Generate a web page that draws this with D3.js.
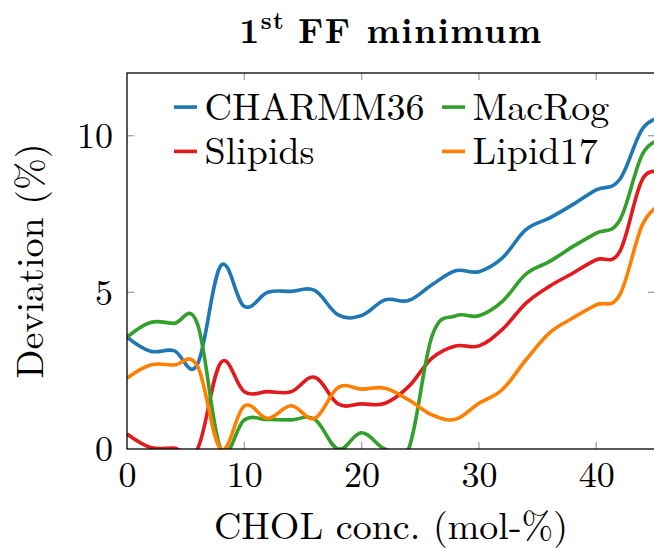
<!DOCTYPE html>
<html>
<head>
<meta charset="utf-8">
<script src="https://cdn.jsdelivr.net/npm/d3@7"></script>
<style>
  html, body { margin: 0; padding: 0; background: #fff; }
  svg { display: block; }
</style>
</head>
<body>
<svg id="chart" width="654" height="549"></svg>
<script>
// Cholesterol concentration (mol-%) at which each force field was evaluated
const concentration = [0, 2, 4, 6, 8, 10, 12, 14, 16, 18, 20, 22, 24, 26, 28, 30, 32, 34, 36, 38, 40, 42, 44, 46];

// Deviation (%) of the first form-factor minimum per force field
const charmm36 = [3.57, 3.12, 3.14, 2.7, 5.85, 4.55, 5.0, 5.03, 5.06, 4.28, 4.26, 4.76, 4.74, 5.24, 5.69, 5.66, 6.1, 7.0, 7.37, 7.8, 8.27, 8.6, 10.25, 10.6];
const slipids  = [0.48, 0.05, 0.03, 0.0, 2.76, 1.83, 1.83, 1.83, 2.29, 1.44, 1.44, 1.46, 1.99, 2.9, 3.29, 3.29, 3.82, 4.65, 5.19, 5.61, 6.04, 6.3, 8.65, 8.7];
const macrog   = [3.57, 4.04, 4.01, 4.0, 0.0, 0.93, 0.94, 0.93, 0.95, 0.0, 0.52, 0.0, 0.0, 3.6, 4.25, 4.25, 4.71, 5.58, 5.98, 6.46, 6.89, 7.3, 9.45, 9.9];
const lipid17  = [2.26, 2.68, 2.68, 2.65, 0.0, 1.37, 0.98, 1.38, 0.98, 1.96, 1.91, 1.94, 1.57, 1.09, 0.95, 1.46, 1.9, 2.84, 3.7, 4.18, 4.6, 4.92, 7.21, 7.9];

const seriesNames  = ["CHARMM36", "Slipids", "MacRog", "Lipid17"];
const seriesValues = [charmm36, slipids, macrog, lipid17];
const seriesColors = ["#1f78b4", "#e31a1c", "#33a02c", "#ff7f00"];

const xTicks = [0, 10, 20, 30, 40];
const yTicks = [0, 5, 10];

const titleMain = "1";
const titleSup = "st";
const titleRest = "FF minimum";
const xLabel = "CHOL conc. (mol-%)";
const yLabel = "Deviation (%)";

const FONT = "'Latin Modern Roman', 'Liberation Serif', serif";

const svg = d3.select("#chart");

const plotLeft = 127, plotRight = 654.9, plotTop = 73, plotBottom = 449;

const x = d3.scaleLinear().domain([0, 45]).range([plotLeft, plotRight]);
const y = d3.scaleLinear().domain([0, 12]).range([plotBottom, plotTop]);

svg.append("defs").append("clipPath").attr("id", "plot-clip")
  .append("rect")
  .attr("x", plotLeft).attr("y", plotTop)
  .attr("width", plotRight - plotLeft).attr("height", plotBottom - plotTop);

// Smooth curves through every measured concentration
const line = d3.line()
  .x((d, i) => x(concentration[i]))
  .y(d => y(d))
  .curve(d3.curveCardinal.tension(-0.1));

const plot = svg.append("g").attr("clip-path", "url(#plot-clip)");
seriesValues.forEach((vals, k) => {
  plot.append("path")
    .datum(vals)
    .attr("fill", "none")
    .attr("stroke", seriesColors[k])
    .attr("stroke-width", 3.6)
    .attr("stroke-linejoin", "round")
    .attr("d", line);
});

// Inward gray tick marks on all sides
const tickColor = "#a8a8a8";
const tickLen = 7;
const ticksG = svg.append("g").attr("stroke", tickColor).attr("stroke-width", 1.4);
xTicks.filter(t => t > 0).forEach(t => {
  ticksG.append("line").attr("x1", x(t)).attr("x2", x(t)).attr("y1", plotBottom).attr("y2", plotBottom - tickLen);
  ticksG.append("line").attr("x1", x(t)).attr("x2", x(t)).attr("y1", plotTop).attr("y2", plotTop + tickLen);
});
yTicks.filter(t => t > 0).forEach(t => {
  ticksG.append("line").attr("x1", plotLeft).attr("x2", plotLeft + tickLen).attr("y1", y(t)).attr("y2", y(t));
  ticksG.append("line").attr("x1", plotRight).attr("x2", plotRight - tickLen).attr("y1", y(t)).attr("y2", y(t));
});

// Axis frame
svg.append("rect")
  .attr("x", plotLeft).attr("y", plotTop)
  .attr("width", plotRight - plotLeft).attr("height", plotBottom - plotTop)
  .attr("fill", "none").attr("stroke", "#000").attr("stroke-width", 1.3);

// Tick labels drawn by d3 axes (tick lines hidden, only text kept)
const xAxis = d3.axisBottom(x).tickValues(xTicks).tickSize(0).tickPadding(0).tickFormat(d3.format("d"));
const gx = svg.append("g").attr("transform", `translate(0,${plotBottom})`).call(xAxis);
gx.select(".domain").remove();
gx.selectAll("text")
  .attr("dy", null).attr("y", 37.5)
  .style("font-family", FONT).style("font-size", "36px").attr("fill", "#000");

const yAxis = d3.axisLeft(y).tickValues(yTicks).tickSize(0).tickPadding(0).tickFormat(d3.format("d"));
const gy = svg.append("g").attr("transform", `translate(${plotLeft},0)`).call(yAxis);
gy.select(".domain").remove();
gy.selectAll("text")
  .attr("x", -14).attr("dy", "0.33em")
  .style("font-family", FONT).style("font-size", "36px").attr("fill", "#000");

// Axis titles
svg.append("text")
  .attr("x", (plotLeft + plotRight) / 2).attr("y", 538.5)
  .attr("text-anchor", "middle")
  .style("font-family", FONT).style("font-size", "38px")
  .text(xLabel);

svg.append("text")
  .attr("transform", `translate(43,${(plotTop + plotBottom) / 2}) rotate(-90)`)
  .attr("text-anchor", "middle")
  .style("font-family", FONT).style("font-size", "38px")
  .text(yLabel);

// Title with superscript ordinal
const title = svg.append("text")
  .attr("x", (plotLeft + plotRight) / 2).attr("y", 43.3)
  .attr("text-anchor", "middle")
  .style("font-family", FONT).style("font-weight", "bold").style("font-size", "35px")
  .style("letter-spacing", "1.4px");
title.append("tspan").text(titleMain);
title.append("tspan").style("font-size", "24px").attr("dy", -14).text(titleSup);
title.append("tspan").attr("dy", 14).attr("dx", 13).text(titleRest);

// Legend in two columns, filled column by column
const legendCols = [174, 442];
const legendRows = [119.6, 163.9];
seriesNames.forEach((name, k) => {
  const col = legendCols[Math.floor(k / 2)];
  const row = legendRows[k % 2];
  const g = svg.append("g");
  g.append("line")
    .attr("x1", col).attr("x2", col + 23)
    .attr("y1", row - 12.5).attr("y2", row - 12.5)
    .attr("stroke", seriesColors[k]).attr("stroke-width", 3.6);
  g.append("text")
    .attr("x", col + 30.5).attr("y", row)
    .style("font-family", FONT).style("font-size", "38px")
    .text(name);
});
</script>
</body>
</html>
